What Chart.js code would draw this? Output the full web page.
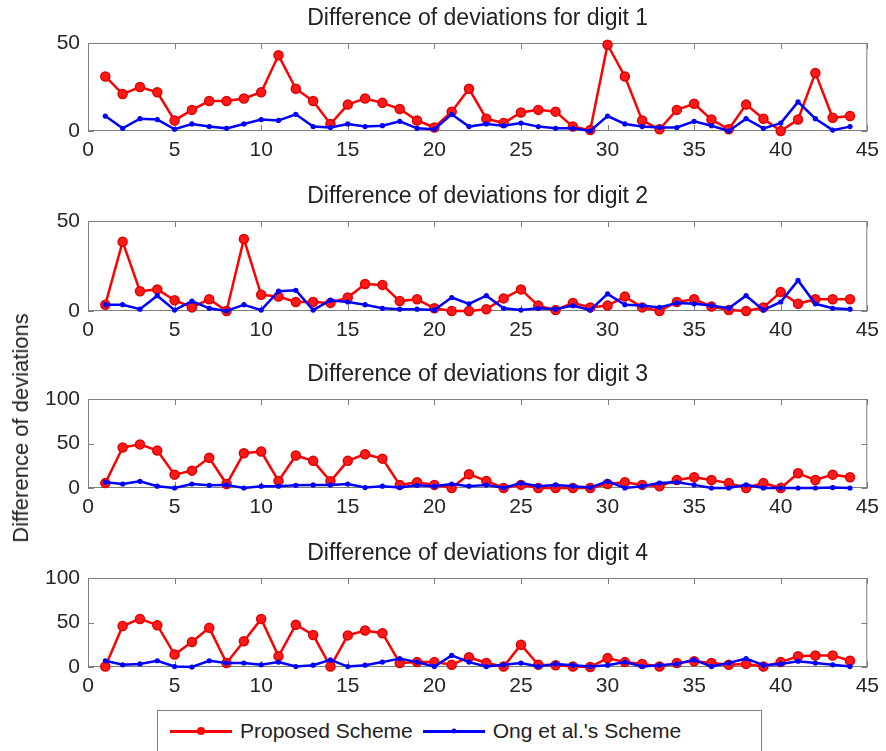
<!DOCTYPE html>
<html>
<head>
<meta charset="utf-8">
<script src="https://cdn.jsdelivr.net/npm/chart.js@4.4.1/dist/chart.umd.min.js"></script>
<style>
  body { margin: 0; background: #fff; width: 886px; height: 751px; position: relative; overflow: hidden;
         font-family: "Liberation Sans", Arial, sans-serif; color: #222; }
  canvas { position: absolute; left: 0; }
  #ylabel { position: absolute; left: 21px; top: 428px; transform: translate(-50%, -50%) rotate(-90deg);
            white-space: nowrap; font-size: 22px; }
  #legend { position: absolute; left: 157px; top: 710px; width: 605px; height: 42px; border: 1px solid #7f7f7f;
            display: flex; align-items: center; justify-content: flex-start; box-sizing: border-box;
            font-size: 21px; background: #fff; }
  .item { display: flex; align-items: center; }
  .sample { position: relative; width: 62px; height: 3px; margin-right: 8px; }
  .sample span { position: absolute; left: 50%; top: 50%; border-radius: 50%; transform: translate(-50%, -50%); }
</style>
</head>
<body>
<canvas id="c1" width="886" height="161" style="top:0px"></canvas>
<canvas id="c2" width="886" height="163" style="top:178px"></canvas>
<canvas id="c3" width="886" height="162" style="top:356px"></canvas>
<canvas id="c4" width="886" height="162" style="top:535px"></canvas>
<div id="ylabel">Difference of deviations</div>
<div id="legend">
  <div class="item" style="margin-left:12px"><div class="sample" style="background:#ff0000"><span style="width:8px;height:8px;background:#ff0000"></span></div>Proposed Scheme</div>
  <div class="item" style="margin-left:10px"><div class="sample" style="background:#0000ff"><span style="width:5px;height:5px;background:#0000ff"></span></div>Ong et al.'s Scheme</div>
</div>
<script>
const trials = [1,2,3,4,5,6,7,8,9,10,11,12,13,14,15,16,17,18,19,20,21,22,
                23,24,25,26,27,28,29,30,31,32,33,34,35,36,37,38,39,40,41,42,43,44];

const proposed1 = [31,21,25,22,6,12,17,17,18.5,22,43,24,17,4,15,18.5,16,12.5,6,2,11,24,
                   7,4.5,10.5,12,11,2.5,0.5,49,31,6,1,12,15.5,6.5,1,15,7,0,6.5,33,7.5,8.5];
const ong1 = [8.5,1.5,7,6.5,1,4,2.5,1.5,4,6.5,6,9.5,2.5,2,4,2.5,3,5.5,1.5,1,9.5,2.5,
              4,3,4.5,2.5,1.5,1.5,0,8.5,4,2.5,2,2,5.5,3,0,7,1.5,4.5,16.5,7,0.5,2.5];

const proposed2 = [3.5,38.5,11,12,6,2,6.5,0,40,9,8,5,5,4.5,7.5,15,14.5,5.5,6.5,1.5,0,0,
                   1,7,12,3,0.5,4.5,2,3,8,2,0,5,6.5,2.5,0.5,0,2,10.5,4,6.5,6.5,6.5];
const ong2 = [3.5,3.5,1,8.5,0.5,5.5,1.5,0,3.5,0.5,11,11.5,0.5,6,5,3.5,1.5,1,1,0.5,7.5,4,
              8.5,1.5,0.5,1.5,1,3,0.5,9.5,3.5,3,2,4.5,4,3,1.5,8.5,0.5,5,17,4,1.5,1];

const proposed3 = [5.5,45.5,49,42,15,19.5,34,4.5,39,41,8,36.5,30.5,7.5,30.5,38,33,3.5,6.5,3.5,0,15.5,
                   8,0,3.5,0,0,0,0,4.5,6.5,3.5,2,9,12,9,5.5,0,5.5,0,16.5,9,15,12];
const ong3 = [6.5,4.5,7.5,2,0,4.5,3,3.5,0,2,2,3,3.5,3.5,4.5,0.5,2,0.5,3,2,4.5,2,
              3.5,0,5.5,2,3.5,2,0.5,7.5,0,2,5.5,6.5,3.5,0,0,3.5,0,0,0,0,0.5,0];

const proposed4 = [0.5,46,54,47,14,28,44,4.5,29,54,12,47.5,36,0.5,35.5,41,38,4.5,5.5,5.5,2.5,11,
                   4.5,0.5,25,2.5,2,0.5,0,10,5.5,3.5,0.5,4.5,6.5,4.5,2.5,3.5,0.5,5.5,12,13,13,7];
const ong4 = [7,2.5,3.5,7,0.5,0,7,4.5,4.5,2.5,5.5,0.5,2,8,0.5,2,5.5,9.5,5.5,0.5,13,5.5,
              0.5,2.5,4.5,0.5,3.5,2,0.5,2,5.5,0.5,2,3.5,8,0.5,4.5,9.5,2,3.5,6.5,4.5,2.5,0.5];

const xTicks = [0,5,10,15,20,25,30,35,40,45];

// matlab style box with inward ticks on all four sides
const boxPlugin = {
  id: 'matlabBox',
  beforeDatasetsDraw(chart) {
    const { ctx, chartArea: a, scales: { x, y } } = chart;
    ctx.save();
    ctx.strokeStyle = '#7f7f7f';
    ctx.lineWidth = 1;
    ctx.strokeRect(a.left + 0.5, a.top + 0.5, a.width - 1, a.height - 1);
    ctx.beginPath();
    x.ticks.forEach(t => {
      const px = Math.round(x.getPixelForValue(t.value)) + 0.5;
      ctx.moveTo(px, a.bottom); ctx.lineTo(px, a.bottom - 6);
      ctx.moveTo(px, a.top); ctx.lineTo(px, a.top + 6);
    });
    y.ticks.forEach(t => {
      const py = Math.round(y.getPixelForValue(t.value)) + 0.5;
      ctx.moveTo(a.left, py); ctx.lineTo(a.left + 6, py);
      ctx.moveTo(a.right, py); ctx.lineTo(a.right - 6, py);
    });
    ctx.stroke();
    ctx.restore();
  }
};

const tickFont = { family: 'Liberation Sans', size: 21 };

function makePanel(id, title, proposed, ong, yMax) {
  new Chart(document.getElementById(id), {
    type: 'line',
    data: {
      datasets: [
        {
          label: 'Proposed Scheme',
          data: trials.map((t, i) => ({ x: t, y: proposed[i] })),
          borderColor: '#ff0000', backgroundColor: '#ff1a1a',
          borderWidth: 2.5, pointRadius: 4.5, pointBorderWidth: 1.5, pointBorderColor: '#e00000',
          tension: 0, order: 1, clip: false
        },
        {
          label: "Ong et al.'s Scheme",
          data: trials.map((t, i) => ({ x: t, y: ong[i] })),
          borderColor: '#0000ff', backgroundColor: '#0000ff',
          borderWidth: 2.5, pointRadius: 2.6, pointBorderWidth: 0,
          tension: 0, order: 0, clip: false
        }
      ]
    },
    options: {
      responsive: false,
      animation: false,
      events: [],
      layout: { padding: { left: 0, right: 16, top: 0, bottom: 0 } },
      plugins: {
        legend: { display: false },
        tooltip: { enabled: false },
        title: {
          display: true, text: title, color: '#222', fullSize: false,
          font: { family: 'Liberation Sans', size: 23, weight: 'normal' },
          padding: { top: 4.5, bottom: 10.9 }
        }
      },
      scales: {
        x: {
          type: 'linear', min: 0, max: 45,
          afterBuildTicks(s) { s.ticks = xTicks.map(v => ({ value: v })); },
          ticks: { color: '#262626', font: tickFont, padding: 7, maxRotation: 0 },
          grid: { display: false, drawTicks: false },
          border: { display: false },
          afterFit(s) { s.height = 30; }
        },
        y: {
          min: 0, max: yMax,
          ticks: { stepSize: 50, color: '#262626', font: tickFont, padding: 8 },
          grid: { display: false, drawTicks: false },
          border: { display: false },
          afterFit(s) { s.width = 88; }
        }
      }
    },
    plugins: [boxPlugin]
  });
}

makePanel('c1', 'Difference of deviations for digit 1', proposed1, ong1, 50);
makePanel('c2', 'Difference of deviations for digit 2', proposed2, ong2, 50);
makePanel('c3', 'Difference of deviations for digit 3', proposed3, ong3, 100);
makePanel('c4', 'Difference of deviations for digit 4', proposed4, ong4, 100);
</script>
</body>
</html>
